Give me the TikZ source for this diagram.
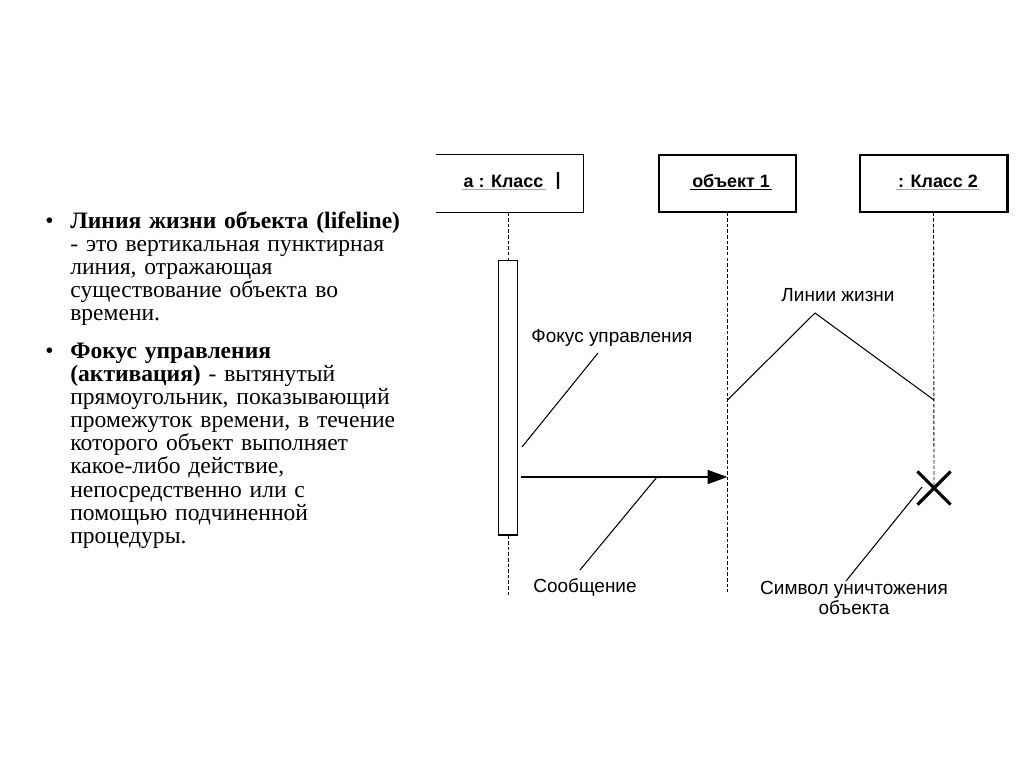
\documentclass[tikz,border=0pt]{standalone}
\usepackage{fontspec}
\setmainfont{Liberation Serif}
\setsansfont{Liberation Sans}
\usetikzlibrary{arrows.meta,positioning,shapes.misc}
\definecolor{ulgray}{HTML}{A8A8A8}
\tikzset{
  headbox/.style={minimum height=1.14cm,inner sep=0pt,line width=0.7pt},
  objname/.style={font=\sffamily\bfseries\fontsize{10.2}{12}\selectfont,inner sep=1pt},
  lifeline/.style={line width=0.5pt,dash pattern=on 2pt off 1.2pt},
  activation/.style={draw,fill=white,line width=0.6pt,minimum width=0.38cm,minimum height=5.5cm,inner sep=0pt},
  message/.style={-{Triangle[length=0.4cm,width=0.28cm]},line width=1pt,shorten <=0.06cm},
  pointer/.style={line width=0.6pt},
  killmark/.style={cross out,draw,line width=1.8pt,minimum size=0.6cm,inner sep=0pt},
  note/.style={font=\sffamily\fontsize{10.8}{11.3}\selectfont,align=center,inner sep=0pt},
  bodytext/.style={anchor=base west,align=left,text width=8cm,inner sep=0pt,font=\fontsize{13.4}{13.2}\selectfont},
  bullet/.style={anchor=base west,inner sep=0pt,font=\fontsize{13.4}{13.2}\selectfont}
}
\begin{document}
\begin{tikzpicture}[x=0.02cm,y=-0.02cm]
\useasboundingbox (0,0) rectangle (1024,767);
\node[bullet] (dot1) at (45,228) {•};
\node[bodytext] (life) at (70,228) {\textbf{Линия жизни объекта (lifeline)}\\- это вертикальная пунктирная\\линия, отражающая\\существование объекта во\\времени.};
\node[bullet] (dot2) at (45,358) {•};
\node[bodytext] (focus) at (70,358) {\textbf{Фокус управления}\\\textbf{(активация)} - вытянутый\\прямоугольник, показывающий\\промежуток времени, в течение\\которого объект выполняет\\какое-либо действие,\\непосредственно или с\\помощью подчиненной\\процедуры.};

\node[headbox,minimum width=2.92cm] (boxa) at (510,183.5) {};
\draw[line width=0.7pt] (boxa.north west) -- (boxa.north east) -- (boxa.south east) -- (boxa.south west);
\node[headbox,draw,minimum width=2.74cm] (boxb) at (727.5,183.5) {};
\node[headbox,draw,minimum width=2.94cm] (boxc) at (933.5,183.5) {};
\draw[line width=2pt] (boxc.north east) -- (boxc.south east);

\node[objname] (namea) at (503.5,181) {a : Класс};
\node[objname,right=0.16cm of namea] (bara) {|};
\draw[ulgray,line width=0.8pt] (namea.south west) -- (namea.south east);
\node[objname] (nameb) at (731,181) {объект 1};
\draw[line width=0.8pt] (nameb.south west) -- (nameb.south east);
\node[objname] (namec) at (938,181) {: Класс 2};
\draw[ulgray,line width=0.8pt] (namec.south west) -- (namec.south east);

\node[activation] (act) at (508,397.5) {};
\coordinate (enda) at (508,595);
\coordinate (endb) at (727.5,592);
\node[killmark] (kill) at (934,488) {};
\draw[lifeline] (act.north |- boxa.south) -- (act.north);
\draw[lifeline] (act.south) -- (enda);
\draw[lifeline] (boxb.south) -- (endb);
\draw[lifeline] (boxc.south) -- (kill.center);

\coordinate (msgto) at (727.5,477);
\draw[message] (act.east |- msgto) -- (msgto);

\node[note] (lifelbl) at (838,295) {Линии жизни};
\coordinate (peak) at (815,313);
\coordinate (hit1) at (727.5,400);
\coordinate (hit2) at (934,400);
\draw[pointer] (hit1) -- (peak) -- (hit2);

\node[note] (focuslbl) at (612,338) {Фокус управления};
\coordinate (focustail) at (598,353);
\coordinate (focustip) at (522,447);
\draw[pointer] (focustail) -- (focustip);

\node[note] (msglbl) at (585,587) {Сообщение};
\coordinate (msgmid) at (657,477);
\coordinate (msgfoot) at (580,570);
\draw[pointer] (msgmid) -- (msgfoot);

\node[note] (killlbl) at (854,598) {Символ уничтожения\\объекта};
\coordinate (killtip) at (922,487);
\coordinate (killfoot) at (846,581);
\draw[pointer] (killtip) -- (killfoot);
\end{tikzpicture}
\end{document}
